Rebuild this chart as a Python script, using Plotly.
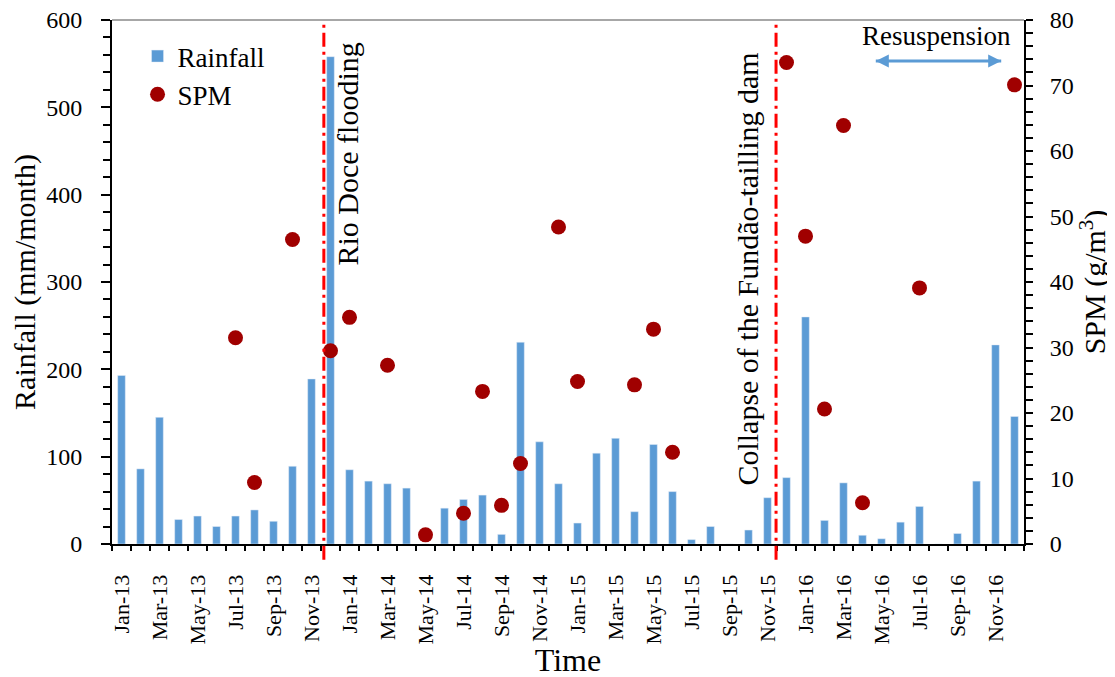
import plotly.graph_objects as go

years = ["13", "14", "15", "16"]
month_abbr = ["Jan", "Feb", "Mar", "Apr", "May", "Jun",
              "Jul", "Aug", "Sep", "Oct", "Nov", "Dec"]
months = [f"{m}-{y}" for y in years for m in month_abbr]

rainfall = [193, 86, 145, 28, 32, 20, 32, 39, 26, 89, 189, 558,
            85, 72, 69, 64, 0, 41, 51, 56, 11, 231, 117, 69,
            24, 104, 121, 37, 114, 60, 5, 20, 0, 16, 53, 76,
            260, 27, 70, 10, 6, 25, 43, 0, 12, 72, 228, 146]

spm = [None, None, None, None, None, None, 31.5, 9.4, None, 46.5, None, 29.5,
       34.6, None, 27.3, None, 1.4, None, 4.7, 23.3, 5.9, 12.3, None, 48.4,
       24.8, None, None, 24.3, 32.8, 14.0, None, None, None, None, None, 73.5,
       47.0, 20.6, 63.9, 6.3, None, None, 39.1, None, None, None, None, 70.1]

event_labels = ["Rio Doce flooding", "Collapse of the Fundão-tailling dam"]
event_pos = [10.65, 34.45]

resusp_label = "Resuspension"
resusp_span = [39.7, 46.3]

x = list(range(len(months)))
FONT = "Liberation Serif"
BLUE = "#5b9bd5"
RED_DOT = "#a00000"

fig = go.Figure()
fig.add_trace(go.Bar(x=x, y=rainfall, name="Rainfall", marker_color=BLUE,
                     width=0.4, yaxis="y", legendgroup="a"))
fig.add_trace(go.Scatter(x=x, y=spm, mode="markers", name="SPM",
                         marker=dict(color=RED_DOT, size=15), yaxis="y2",
                         legendgroup="b"))
# resuspension double arrow
fig.add_trace(go.Scatter(x=resusp_span, y=[553, 553], mode="lines+markers",
                         line=dict(color=BLUE, width=3),
                         marker=dict(symbol=["arrow-left", "arrow-right"],
                                     size=13, color=BLUE),
                         showlegend=False, hoverinfo="skip", yaxis="y"))

xrange = [-0.5, len(months) - 0.5]

fig.update_layout(
    width=1115, height=677,
    margin=dict(l=104, r=99, t=12, b=141, pad=0, autoexpand=False),
    plot_bgcolor="white", paper_bgcolor="white",
    font=dict(family=FONT, color="black"),
    bargap=0.6,
    xaxis=dict(
        range=xrange, tickmode="array", tickvals=x[::2], ticktext=months[::2],
        tickangle=-90, tickfont=dict(size=22, family=FONT, color="black"),
        ticks="outside", ticklen=5, tickcolor="rgba(0,0,0,0)",
        ticklabelstandoff=15, automargin=False, ticklabeloverflow="allow",
        minor=dict(tick0=0.5, dtick=1, ticks="outside", ticklen=5,
                   tickcolor="black", tickwidth=1.5),
        showline=True, linecolor="black", linewidth=2,
        showgrid=False, zeroline=False,
        title=dict(text="Time", font=dict(size=32, family=FONT, color="black"),
                   standoff=4),
    ),
    xaxis2=dict(
        range=xrange, overlaying="x", anchor="y", side="bottom",
        showticklabels=False, tickmode="array", tickvals=[], automargin=False,
        minor=dict(tick0=0.5, dtick=1, ticks="inside", ticklen=5,
                   tickcolor="black", tickwidth=1.5),
        showline=False, showgrid=False, zeroline=False,
    ),
    yaxis=dict(
        range=[0, 600], dtick=100, ticks="outside", ticklen=9,
        tickcolor="black", tickwidth=1.5, automargin=False,
        ticklabeloverflow="allow",
        minor=dict(dtick=20, ticks="outside", ticklen=7, tickcolor="black",
                   tickwidth=1.5),
        tickfont=dict(size=24, family=FONT, color="black"),
        ticklabelstandoff=14,
        showline=True, linecolor="black", linewidth=2,
        showgrid=False, zeroline=False,
        title=dict(text="Rainfall (mm/month)",
                   font=dict(size=30, family=FONT, color="black"), standoff=8),
    ),
    yaxis2=dict(
        range=[0, 80], dtick=10, overlaying="y", side="right", anchor="x",
        ticks="outside", ticklen=7, tickcolor="black", tickwidth=1.5,
        automargin=False, ticklabeloverflow="allow",
        minor=dict(dtick=2, ticks="outside", ticklen=7, tickcolor="black",
                   tickwidth=1.5),
        tickfont=dict(size=24, family=FONT, color="black"),
        ticklabelstandoff=12,
        showline=True, linecolor="black", linewidth=2,
        showgrid=False, zeroline=False,
        title=dict(text="SPM (g/m<sup>3</sup>)",
                   font=dict(size=30, family=FONT, color="black"), standoff=4),
    ),
    yaxis3=dict(
        range=[0, 80], overlaying="y", side="right", anchor="x",
        showticklabels=False, tickmode="array", tickvals=[], automargin=False,
        minor=dict(dtick=2, ticks="inside", ticklen=6, tickcolor="black",
                   tickwidth=1.5),
        showline=False, showgrid=False, zeroline=False,
    ),
    legend=dict(x=0.028, y=0.977, xanchor="left", yanchor="top",
                font=dict(size=27, family=FONT, color="black"),
                bgcolor="rgba(0,0,0,0)", traceorder="normal",
                tracegroupgap=14),
    showlegend=True,
)

# top frame line (gray)
fig.add_shape(type="line", xref="paper", yref="paper", x0=0, x1=1, y0=1, y1=1,
              line=dict(color="#8a8a8a", width=1.5), layer="above")

# event lines
for pos in event_pos:
    fig.add_shape(type="line", xref="x", yref="paper", x0=pos, x1=pos,
                  y0=-0.03, y1=1, layer="above",
                  line=dict(color="#ff0000", width=3, dash="14px,5px,3px,5px"))

fig.add_annotation(text=event_labels[0], x=11.92, xref="x", y=577, yref="y",
                   textangle=-90, xanchor="center", yanchor="top",
                   showarrow=False, font=dict(size=30, family=FONT, color="black"))
fig.add_annotation(text=event_labels[1], x=32.95, xref="x", y=565, yref="y",
                   textangle=-90, xanchor="center", yanchor="top",
                   showarrow=False, font=dict(size=30, family=FONT, color="black"))

fig.add_annotation(text=resusp_label, x=42.9, xref="x", y=582, yref="y",
                   xanchor="center", yanchor="middle", showarrow=False,
                   font=dict(size=27, family=FONT, color="black"))

fig.write_html("out.html")
